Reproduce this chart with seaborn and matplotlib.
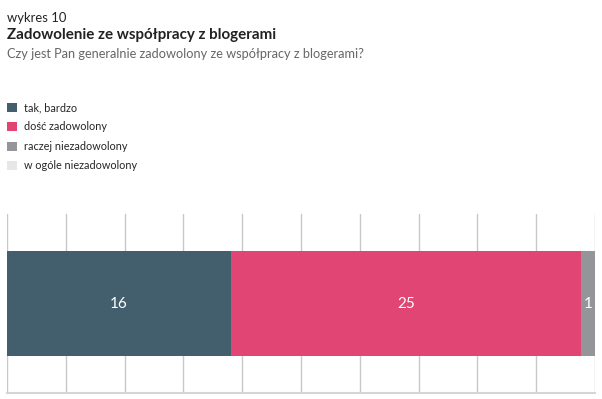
import numpy as np
import pandas as pd
import seaborn as sns
import matplotlib.pyplot as plt
from matplotlib.patches import Patch

categories = ['tak, bardzo', 'dość zadowolony', 'raczej niezadowolony', 'w ogóle niezadowolony']
values = [16, 25, 1, 0]
colors = ['#435F6E', '#E04574', '#939598', '#E6E7E8']

sns.set_theme(style='white')
plt.rcParams['font.family'] = ['Lato', 'DejaVu Sans']

total = sum(values)
cum = np.cumsum(values)
df = pd.DataFrame({'cat': categories, 'cum': cum, 'val': values, 'left': cum - np.array(values)})

fig = plt.figure(figsize=(6.02, 3.99), dpi=100)
ax = fig.add_axes([7 / 602, 6 / 399, 588 / 602, 179 / 399])

# stacked look: draw cumulative bars from the longest down
for i in range(len(df) - 1, -1, -1):
    sns.barplot(x=[df['cum'][i]], y=[0], orient='h', color=colors[i],
                width=0.59, saturation=1, linewidth=0, ax=ax, zorder=2)

for i, row in df.iterrows():
    if row['val'] > 0:
        ax.text(row['left'] + row['val'] / 2, 0, str(row['val']), color='white',
                ha='center', va='center', fontsize=11, zorder=3)

ax.set_xlim(0, total)
ax.set_ylim(0.5, -0.5)
ax.set_xticks(np.linspace(0, total, 11))
ax.grid(axis='x', color='#c8c8c8', linewidth=1, zorder=0)
ax.set_axisbelow(True)
ax.tick_params(left=False, bottom=False, labelleft=False, labelbottom=False)
ax.set_xlabel('')
ax.set_ylabel('')
for s in ['top', 'left', 'right']:
    ax.spines[s].set_visible(False)
ax.spines['bottom'].set_color('#d6d6d6')
ax.spines['bottom'].set_linewidth(1.5)

fig.text(7 / 602, 1 - 18 / 399, 'wykres 10', fontsize=9.4, color='#222222', va='center')
fig.text(7 / 602, 1 - 35 / 399, 'Zadowolenie ze współpracy z blogerami', fontsize=10.9,
         fontweight='bold', color='#222222', va='center')
fig.text(7 / 602, 1 - 54 / 399, 'Czy jest Pan generalnie zadowolony ze współpracy z blogerami?',
         fontsize=9.2, color='#666666', va='center')

handles = [Patch(facecolor=c, edgecolor='none') for c in colors]
fig.legend(handles, categories, loc='upper left', bbox_to_anchor=(7 / 602, 1 - 102 / 399),
           frameon=False, fontsize=7.8, handlelength=0.92, handleheight=0.92,
           handletextpad=0.65, labelspacing=0.78, borderaxespad=0, borderpad=0)

fig.savefig('out.png', dpi=100)
